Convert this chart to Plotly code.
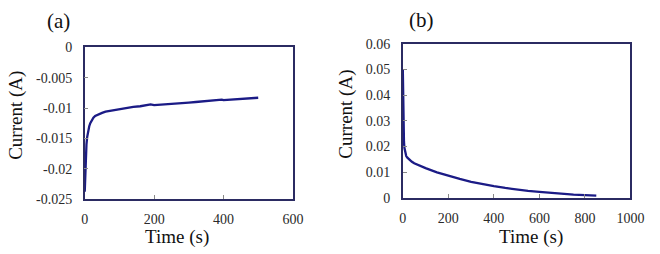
import plotly.graph_objects as go

# Panel (a): cathodic current vs time
time_a = [0, 0.5, 1, 2, 3, 4, 5, 7, 10, 13, 16, 20, 25, 30, 40, 50, 60, 70, 80, 100, 120, 140,
          160, 180, 190, 200, 220, 240, 260, 280, 295, 300, 320, 340, 360, 380, 395, 400, 420,
          440, 460, 480, 500]
current_a = [-0.0238, -0.0225, -0.0210, -0.0192, -0.0178, -0.0168, -0.0160, -0.0148, -0.0137,
             -0.0130, -0.0125, -0.0120, -0.0116, -0.0113, -0.0110, -0.0108, -0.0106, -0.0105,
             -0.0104, -0.0101, -0.0099, -0.0098, -0.0097, -0.0095, -0.0094, -0.0095, -0.0094,
             -0.0093, -0.0092, -0.0091, -0.0090, -0.0091, -0.0090, -0.0089, -0.0088, -0.0087,
             -0.0086, -0.0087, -0.0086, -0.0085, -0.0084, -0.0083, -0.0083]

# Panel (b): anodic current vs time
time_b = [0, 0.5, 1, 2, 3, 5, 7, 10, 15, 20, 30, 40, 50, 75, 100, 150, 200, 250, 300, 350, 400,
          450, 500, 550, 600, 650, 700, 750, 800, 850]
current_b = [0.050, 0.046, 0.040, 0.032, 0.027, 0.022, 0.0195, 0.0175, 0.0163, 0.0157, 0.0148,
             0.0141, 0.0135, 0.0125, 0.0116, 0.0100, 0.0086, 0.0074, 0.0063, 0.0054, 0.0046,
             0.0039, 0.0033, 0.0028, 0.0024, 0.0020, 0.0016, 0.0013, 0.0011, 0.0009]

xticks_a = [0, 200, 400, 600]
yticks_a = [0, -0.005, -0.01, -0.015, -0.02, -0.025]
yticklabels_a = ["0", "-0.005", "-0.01", "-0.015", "-0.02", "-0.025"]
xticks_b = [0, 200, 400, 600, 800, 1000]
yticks_b = [0, 0.01, 0.02, 0.03, 0.04, 0.05, 0.06]
yticklabels_b = ["0", "0.01", "0.02", "0.03", "0.04", "0.05", "0.06"]

LINE = "#1b1b86"
FRAME = "#2b2b62"
FONT = "Liberation Serif"
TEXT = "#2a2a2a"
W, H = 660, 254

fig = go.Figure()
fig.add_trace(go.Scatter(x=time_a, y=current_a, mode="lines",
                         line=dict(color=LINE, width=2.3), xaxis="x", yaxis="y",
                         showlegend=False))
fig.add_trace(go.Scatter(x=time_b, y=current_b, mode="lines",
                         line=dict(color=LINE, width=2.3), xaxis="x2", yaxis="y2",
                         showlegend=False))

def ax(**kw):
    d = dict(showline=True, linecolor=FRAME, linewidth=1.5, mirror=True,
             ticks="inside", ticklen=4, tickcolor="#888888", tickwidth=1,
             showgrid=False, zeroline=False,
             tickfont=dict(family=FONT, size=14, color=TEXT))
    d.update(kw)
    return d

# pixel-based domains
fig.update_layout(
    width=W, height=H, margin=dict(l=0, r=0, t=0, b=0),
    paper_bgcolor="white", plot_bgcolor="white",
    xaxis=ax(domain=[83 / W, 297 / W], range=[0, 600], tickvals=xticks_a,
             anchor="y", ticklabelstandoff=6),
    yaxis=ax(domain=[1 - 204 / H, 1 - 43 / H], range=[-0.025, 0], tickvals=yticks_a,
             ticktext=yticklabels_a, anchor="x", ticklabelstandoff=8),
    xaxis2=ax(domain=[410 / W, 644 / W], range=[0, 1000], tickvals=xticks_b,
              anchor="y2", ticklabelstandoff=6),
    yaxis2=ax(domain=[1 - 203 / H, 1 - 39 / H], range=[0, 0.06], tickvals=yticks_b,
              ticktext=yticklabels_b, anchor="x2", ticklabelstandoff=8),
)

def ann(text, x, y, size, angle=0):
    fig.add_annotation(text=text, x=x / W, y=1 - y / H, xref="paper", yref="paper",
                       showarrow=False, textangle=angle, xanchor="center", yanchor="middle",
                       font=dict(family=FONT, size=size, color="#111111"))

ann("(a)", 56, 15, 21)
ann("(b)", 429, 14, 21)
ann("Current (A)", 13, 115, 19, -90)
ann("Current (A)", 352, 114, 19, -90)
ann("Time (s)", 178, 244, 19)
ann("Time (s)", 542, 244, 19)

fig.write_html("out.html")
